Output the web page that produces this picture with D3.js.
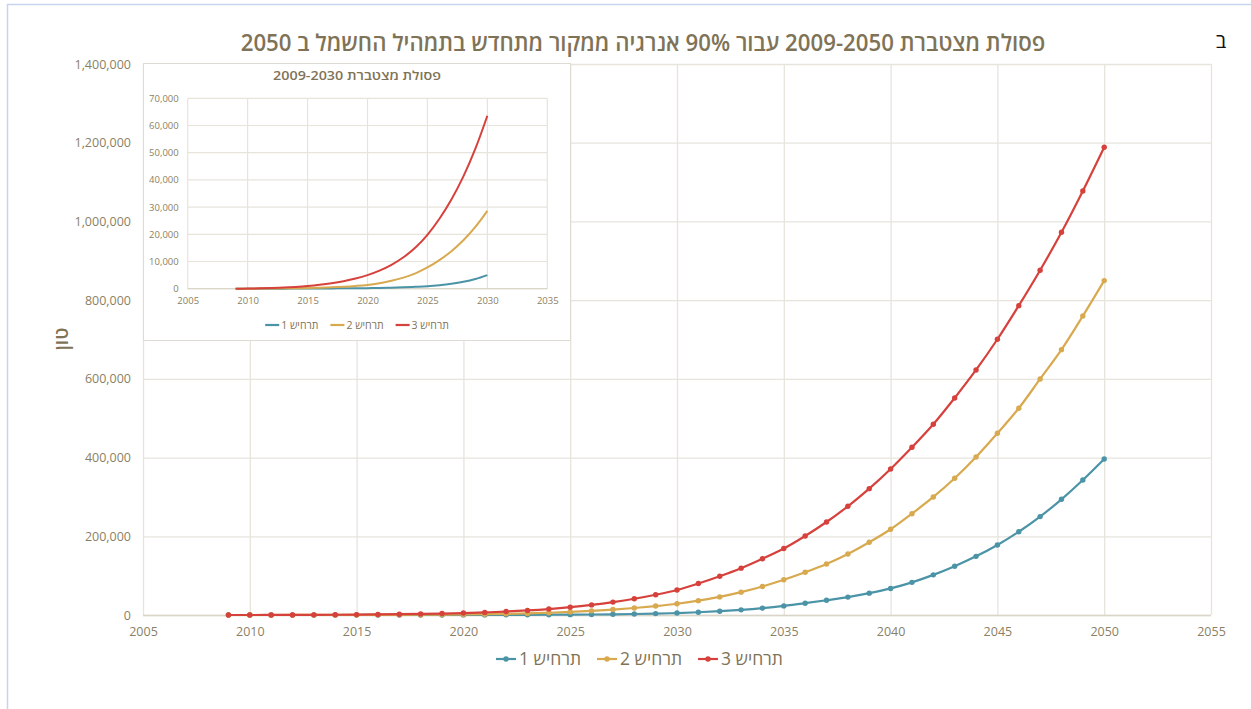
<!DOCTYPE html>
<html><head><meta charset="utf-8">
<script src="https://cdn.jsdelivr.net/npm/d3@7"></script>
<style>
html,body{margin:0;padding:0;background:#fff;}
svg{display:block;font-family:"Open Sans","DejaVu Sans",sans-serif;}
</style></head>
<body>
<svg id="chart" width="1251" height="709"></svg>
<script>
// ---------- data ----------
const years = [2009,2010,2011,2012,2013,2014,2015,2016,2017,2018,2019,2020,2021,2022,2023,2024,2025,2026,2027,2028,2029,2030,2031,2032,2033,2034,2035,2036,2037,2038,2039,2040,2041,2042,2043,2044,2045,2046,2047,2048,2049,2050];
const scenario1 = [0,3,8,15,25,38,55,80,110,145,170,200,280,385,520,690,900,1275,1800,2535,3565,5000,7000,9700,13100,17500,23100,30000,37500,45500,55500,67500,83000,102000,124000,149000,178000,211500,250000,294000,343000,396400];
const scenario2 = [0,15,40,75,120,170,230,350,510,720,1010,1400,2040,2910,4080,5660,7800,10500,13790,17810,22710,28600,36500,46000,58000,72500,89500,108500,129600,155000,184700,217800,257400,299900,347400,401500,461700,525300,599700,674200,759800,849600];
const scenario3 = [0,40,120,240,420,670,1000,1445,2020,2770,3740,5000,6640,8770,11540,15140,19820,25720,32800,41300,51500,63600,80000,98500,119000,143000,169000,200800,236300,276200,321000,371000,426100,484600,551500,622600,700600,786000,876000,972500,1077500,1188600];
const seriesNames = ["תרחיש 1","תרחיש 2","תרחיש 3"];
const mainXTicks = [2005,2010,2015,2020,2025,2030,2035,2040,2045,2050,2055];
const mainYTicks = [0,200000,400000,600000,800000,1000000,1200000,1400000];
const insetXTicks = [2005,2010,2015,2020,2025,2030,2035];
const insetYTicks = [0,10000,20000,30000,40000,50000,60000,70000];
const insetLastYear = 2030;
const mainTitle = "פסולת מצטברת 2009-2050 עבור 90% אנרגיה ממקור מתחדש בתמהיל החשמל ב 2050";
const insetTitle = "פסולת מצטברת 2009-2030";
const yAxisTitle = "טון";
const cornerLetter = "ב";

// ---------- styles ----------
const colors = ["#4b93a6","#d8a94e","#d6413c"];
const textColor = "#8a7f65";
const titleColor = "#7f7357";
const gridColor = "#e7e4dc";
const fmt = d3.format(",");

const svg = d3.select("#chart");
const series = [scenario1, scenario2, scenario3].map((vals,i)=>({
  name: seriesNames[i], color: colors[i],
  points: years.map((y,j)=>({year:y, value:vals[j]}))
}));

// page border
svg.append("rect").attr("x",7.5).attr("y",4.5).attr("width",1400).attr("height",900)
  .attr("fill","none").attr("stroke","#c7d4ee").attr("stroke-width",1.5);

function fitText(sel, width){
  const w = sel.node().getComputedTextLength();
  const x = +sel.attr("x"), y = +sel.attr("y");
  sel.attr("transform",`translate(${x},${y}) scale(${width/w},1) translate(${-x},${-y})`);
}

// ---------- main chart ----------
const x = d3.scaleLinear().domain([2005,2055]).range([143,1211]);
const y = d3.scaleLinear().domain([0,1400000]).range([615,64]);

const main = svg.append("g");
main.append("g").selectAll("line").data(mainYTicks).join("line")
  .attr("x1",x.range()[0]).attr("x2",x.range()[1])
  .attr("y1",d=>y(d)+0.5).attr("y2",d=>y(d)+0.5)
  .attr("stroke",gridColor).attr("stroke-width",1.3);
main.append("g").selectAll("line").data(mainXTicks).join("line")
  .attr("x1",d=>x(d)+0.5).attr("x2",d=>x(d)+0.5)
  .attr("y1",y.range()[0]).attr("y2",y.range()[1])
  .attr("stroke",gridColor).attr("stroke-width",1.3);
main.append("line").attr("x1",x.range()[0]).attr("x2",x.range()[1])
  .attr("y1",y(0)+0.5).attr("y2",y(0)+0.5).attr("stroke","#d9d5c9").attr("stroke-width",1.3);

const yAxis = d3.axisLeft(y).tickValues(mainYTicks).tickFormat(fmt).tickSize(0).tickPadding(12);
main.append("g").attr("transform",`translate(${x.range()[0]},0)`).call(yAxis)
  .call(g=>g.select(".domain").remove())
  .selectAll("text").attr("fill",textColor).attr("font-size",12.5).attr("font-family","Open Sans, sans-serif");
const xAxis = d3.axisBottom(x).tickValues(mainXTicks).tickFormat(d3.format("d")).tickSize(0).tickPadding(12);
main.append("g").attr("transform",`translate(0,${y(0)})`).call(xAxis)
  .call(g=>g.select(".domain").remove())
  .selectAll("text").attr("fill",textColor).attr("font-size",12.5).attr("font-family","Open Sans, sans-serif");

const line = d3.line().x(d=>x(d.year)).y(d=>y(d.value)).curve(d3.curveCatmullRom.alpha(0.5));
series.forEach(s=>{
  main.append("path").attr("d",line(s.points)).attr("fill","none")
    .attr("stroke",s.color).attr("stroke-width",2.2);
  main.append("g").selectAll("circle").data(s.points).join("circle")
    .attr("cx",d=>x(d.year)).attr("cy",d=>y(d.value)).attr("r",2.7).attr("fill",s.color);
});

// y-axis title
svg.append("text").attr("transform","translate(68,339) rotate(-90)")
  .attr("text-anchor","middle").attr("direction","rtl")
  .attr("font-size",19).attr("font-weight",600).attr("fill",titleColor).text(yAxisTitle);

// main title
const t = svg.append("text").attr("x",643).attr("y",51).attr("text-anchor","middle")
  .attr("direction","rtl").attr("font-size",23).attr("font-weight",600)
  .attr("fill",titleColor).text(mainTitle);
fitText(t, 805);

svg.append("text").attr("x",1221).attr("y",48).attr("text-anchor","middle")
  .attr("font-size",20).attr("fill","#111").text(cornerLetter);

// legend builder
function legend(parent, cx, cy, fontSize, lineLen, gap, itemGap, withMarker){
  const g = parent.append("g");
  let cursor = 0;
  series.forEach(s=>{
    const it = g.append("g");
    it.append("line").attr("x1",cursor).attr("x2",cursor+lineLen).attr("y1",0).attr("y2",0)
      .attr("stroke",s.color).attr("stroke-width",2.2);
    if(withMarker) it.append("circle").attr("cx",cursor+lineLen/2).attr("cy",0).attr("r",2.7).attr("fill",s.color);
    const tx = it.append("text").attr("y",fontSize*0.35).attr("direction","rtl")
      .attr("text-anchor","middle").attr("font-size",fontSize).attr("fill",titleColor).text(s.name);
    const w = tx.node().getComputedTextLength();
    tx.attr("x",cursor+lineLen+gap+w/2);
    cursor += lineLen+gap+w+itemGap;
  });
  const total = cursor-itemGap;
  g.attr("transform",`translate(${cx-total/2},${cy})`);
}
legend(svg, 639.5, 659, 17.5, 20, 3, 16, true);

// ---------- inset ----------
const inset = svg.append("g");
inset.append("rect").attr("x",143.5).attr("y",63.5).attr("width",427).attr("height",277)
  .attr("fill","#fff").attr("stroke","#dedbd2").attr("stroke-width",1);
const ix = d3.scaleLinear().domain([2005,2035]).range([187.7,547.3]);
const iy = d3.scaleLinear().domain([0,70000]).range([288.7,98.3]);
inset.append("g").selectAll("line").data(insetYTicks).join("line")
  .attr("x1",ix.range()[0]).attr("x2",ix.range()[1])
  .attr("y1",d=>iy(d)).attr("y2",d=>iy(d))
  .attr("stroke",gridColor).attr("stroke-width",1.2);
inset.append("g").selectAll("line").data(insetXTicks).join("line")
  .attr("x1",d=>ix(d)).attr("x2",d=>ix(d))
  .attr("y1",iy.range()[0]).attr("y2",iy.range()[1])
  .attr("stroke",gridColor).attr("stroke-width",1.2);
inset.append("line").attr("x1",ix.range()[0]).attr("x2",ix.range()[1])
  .attr("y1",iy(0)).attr("y2",iy(0)).attr("stroke","#d9d5c9").attr("stroke-width",1.2);
inset.append("g").attr("transform",`translate(${ix.range()[0]},0)`)
  .call(d3.axisLeft(iy).tickValues(insetYTicks).tickFormat(fmt).tickSize(0).tickPadding(9))
  .call(g=>g.select(".domain").remove())
  .selectAll("text").attr("fill",textColor).attr("font-size",9.5).attr("font-family","Open Sans, sans-serif");
inset.append("g").attr("transform",`translate(0,${iy(0)})`)
  .call(d3.axisBottom(ix).tickValues(insetXTicks).tickFormat(d3.format("d")).tickSize(0).tickPadding(9))
  .call(g=>g.select(".domain").remove())
  .selectAll("text").attr("fill",textColor).attr("font-size",9.5).attr("font-family","Open Sans, sans-serif");
const iline = d3.line().x(d=>ix(d.year)).y(d=>iy(d.value)).curve(d3.curveCatmullRom.alpha(0.5));
series.forEach(s=>{
  inset.append("path").attr("d",iline(s.points.filter(p=>p.year<=insetLastYear)))
    .attr("fill","none").attr("stroke",s.color).attr("stroke-width",2);
});
const it = inset.append("text").attr("x",357).attr("y",80).attr("text-anchor","middle")
  .attr("direction","rtl").attr("font-size",12.5).attr("font-weight",600).attr("fill",titleColor).text(insetTitle);
fitText(it, 168);
legend(inset, 357, 325, 10.5, 14, 2, 12, false);
</script>
</body></html>
